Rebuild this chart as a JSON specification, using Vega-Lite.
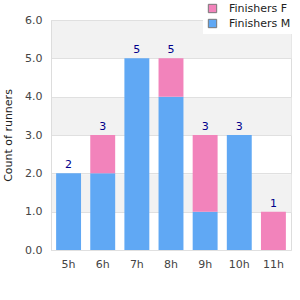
{
  "$schema": "https://vega.github.io/schema/vega-lite/v6.json",
  "width": 240,
  "height": 230,
  "autosize": {"type": "none"},
  "padding": {"left": 51, "top": 20, "right": 9, "bottom": 50},
  "config": {
    "font": "DejaVu Sans",
    "view": {"stroke": "#dddddd"},
    "axis": {"labelFont": "DejaVu Sans", "labelFontSize": 11, "labelColor": "#444444", "titleFont": "DejaVu Sans", "titleFontWeight": "normal", "titleFontSize": 11, "titleColor": "#222222"},
    "legend": {"labelFont": "DejaVu Sans", "labelFontSize": 11, "labelColor": "#222222"}
  },
  "data": {
    "values": [
      {"hour": "5h", "sex": "Finishers M", "count": 2},
      {"hour": "5h", "sex": "Finishers F", "count": 0},
      {"hour": "6h", "sex": "Finishers M", "count": 2},
      {"hour": "6h", "sex": "Finishers F", "count": 1},
      {"hour": "7h", "sex": "Finishers M", "count": 5},
      {"hour": "7h", "sex": "Finishers F", "count": 0},
      {"hour": "8h", "sex": "Finishers M", "count": 4},
      {"hour": "8h", "sex": "Finishers F", "count": 1},
      {"hour": "9h", "sex": "Finishers M", "count": 1},
      {"hour": "9h", "sex": "Finishers F", "count": 2},
      {"hour": "10h", "sex": "Finishers M", "count": 3},
      {"hour": "10h", "sex": "Finishers F", "count": 0},
      {"hour": "11h", "sex": "Finishers M", "count": 0},
      {"hour": "11h", "sex": "Finishers F", "count": 1}
    ]
  },
  "resolve": {"axis": {"y": "independent"}},
  "layer": [
    {
      "mark": {"type": "bar", "opacity": 0},
      "encoding": {
        "x": {"field": "hour", "type": "ordinal", "sort": ["5h","6h","7h","8h","9h","10h","11h"], "scale": {"paddingInner": 0.27, "paddingOuter": 0.15}, "axis": {"title": null, "labelAngle": 0, "ticks": false, "domain": false, "labelPadding": 8}},
        "y": {"aggregate": "sum", "field": "count", "type": "quantitative", "scale": {"domain": [0, 6]},
          "axis": {"orient": "right", "values": [1.5, 3.5, 5.5], "labels": false, "ticks": false, "domain": false, "title": null, "grid": true, "gridColor": "#f2f2f2", "gridWidth": 38.4}}
      }
    },
    {
      "mark": {"type": "bar"},
      "encoding": {
        "x": {"field": "hour", "type": "ordinal", "sort": ["5h","6h","7h","8h","9h","10h","11h"]},
        "y": {"field": "count", "type": "quantitative", "stack": "zero",
          "axis": {"title": "Count of runners", "format": ".1f", "values": [0,1,2,3,4,5,6], "ticks": false, "labelPadding": 9, "grid": true, "gridColor": "#e0e0e0", "domainColor": "#dddddd", "titlePadding": 11}},
        "color": {"field": "sex", "type": "nominal", "scale": {"domain": ["Finishers F", "Finishers M"], "range": ["#f283bb", "#60a8f4"]},
          "legend": {"title": null, "orient": "none", "legendX": 152, "legendY": -21, "fillColor": "white", "padding": 4, "symbolType": "square", "symbolSize": 70, "symbolStrokeColor": "#777777", "symbolStrokeWidth": 1, "rowPadding": 2, "labelOffset": 11}},
        "order": {"field": "sex", "sort": "descending"}
      }
    },
    {
      "mark": {"type": "text", "dy": -8, "color": "#00008b", "fontSize": 11, "font": "DejaVu Sans"},
      "encoding": {
        "x": {"field": "hour", "type": "ordinal", "sort": ["5h","6h","7h","8h","9h","10h","11h"]},
        "y": {"aggregate": "sum", "field": "count", "type": "quantitative", "axis": null},
        "text": {"aggregate": "sum", "field": "count", "type": "quantitative"}
      }
    }
  ]
}
